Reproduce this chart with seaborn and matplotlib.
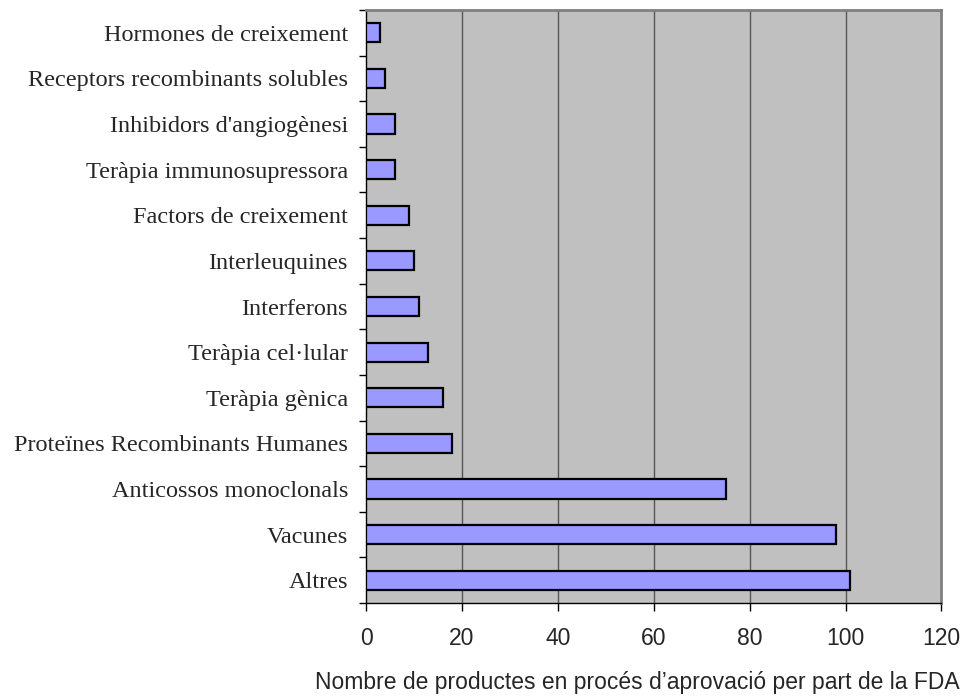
import matplotlib
matplotlib.use("Agg")
import matplotlib.pyplot as plt
import seaborn as sns
import pandas as pd
import numpy as np

categories = [
    "Hormones de creixement",
    "Receptors recombinants solubles",
    "Inhibidors d'angiogènesi",
    "Teràpia immunosupressora",
    "Factors de creixement",
    "Interleuquines",
    "Interferons",
    "Teràpia cel·lular",
    "Teràpia gènica",
    "Proteïnes Recombinants Humanes",
    "Anticossos monoclonals",
    "Vacunes",
    "Altres",
]
values = [3, 4, 6, 6, 9, 10, 11, 13, 16, 18, 75, 98, 101]
x_ticks = [0, 20, 40, 60, 80, 100, 120]
x_label = "Nombre de productes en procés d’aprovació per part de la FDA"

df = pd.DataFrame({"categoria": categories, "productes": values})

sns.set_style("white")
fig = plt.figure(figsize=(9.65, 6.96), dpi=100)
ax = fig.add_axes([0.3793, 0.1336, 0.5963, 0.852])
ax.set_facecolor("#C0C0C0")

sns.barplot(data=df, x="productes", y="categoria", order=categories,
            orient="h", color="#9999FF", saturation=1, width=0.42,
            edgecolor="black", linewidth=1.6, ax=ax, zorder=3)

ax.set_xlim(0, 120)
ax.set_ylim(len(categories) - 0.5, -0.5)
ax.set_xticks(x_ticks)
ax.set_xticklabels([str(t) for t in x_ticks], family="Liberation Sans", fontsize=16.5)
for t in x_ticks[1:-1]:
    ax.axvline(t, color="#555555", linewidth=1.0, zorder=1)

ax.set_yticks(range(len(categories)))
ax.set_yticklabels(categories, family="Liberation Serif", fontsize=17.5)
ax.set_yticks(np.arange(-0.5, len(categories), 1.0), minor=True)
ax.tick_params(axis="y", which="major", left=False, length=0, pad=13)
ax.tick_params(axis="y", which="minor", left=True, length=5, width=1,
               color="black", direction="out")
ax.tick_params(axis="x", which="major", length=6, width=1, color="black",
               direction="out", bottom=True, pad=11)

ax.set_ylabel("")
ax.set_xlabel(x_label, family="Liberation Sans", fontsize=16.5, labelpad=20)
ax.xaxis.set_label_coords(0.471, -0.115)

for side in ("left", "bottom"):
    ax.spines[side].set_color("black")
    ax.spines[side].set_linewidth(1.0)
for side in ("top", "right"):
    ax.spines[side].set_visible(True)
    ax.spines[side].set_color("#808080")
    ax.spines[side].set_linewidth(2.0)

fig.savefig("out.png", dpi=100, facecolor="white")
